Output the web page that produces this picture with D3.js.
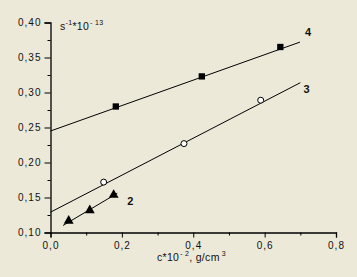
<!DOCTYPE html>
<html>
<head>
<meta charset="utf-8">
<script src="https://cdn.jsdelivr.net/npm/d3@7"></script>
<style>
  body { margin: 0; background: #ECE9D8; }
  svg text { font-family: Arial, "Liberation Sans", sans-serif; fill: #111; }
</style>
</head>
<body>
<div id="chart"></div>
<script>
const s4x = [0.183, 0.424, 0.644];
const s4y = [0.280, 0.323, 0.365];
const s3x = [0.149, 0.374, 0.589];
const s3y = [0.172, 0.227, 0.289];
const s2x = [0.051, 0.110, 0.177];
const s2y = [0.116, 0.131, 0.153];

// fitted lines: [x0, y0, x1, y1]
const fit4 = [0.0, 0.245, 0.699, 0.372];
const fit3 = [0.0, 0.129, 0.700, 0.314];
const fit2 = [0.035, 0.110, 0.187, 0.156];

const xTicks = [0.0, 0.2, 0.4, 0.6, 0.8];
const yTicks = [0.10, 0.15, 0.20, 0.25, 0.30, 0.35, 0.40];
const xMinor = [0.1, 0.3, 0.5, 0.7];
const yMinor = [0.125, 0.175, 0.225, 0.275, 0.325, 0.375];

const width = 357, height = 277;

const svg = d3.select("#chart").append("svg")
    .attr("width", width)
    .attr("height", height);

const x = d3.scaleLinear().domain([0, 0.8]).range([50.5, 336]);
const y = d3.scaleLinear().domain([0.1, 0.4]).range([232.5, 22.5]);

const fmt = d => d3.format(".1f")(d).replace(".", ",");
const fmtY = d => d3.format(".2f")(d).replace(".", ",");

// x axis
const gx = svg.append("g").attr("transform", `translate(0,${y(0.1)})`);
gx.call(d3.axisBottom(x).tickValues(xTicks).tickFormat(fmt).tickSize(5).tickPadding(4));
gx.append("g").call(d3.axisBottom(x).tickValues(xMinor).tickFormat("").tickSize(3))
    .select(".domain").remove();

// y axis
const gy = svg.append("g").attr("transform", `translate(${x(0)},0)`);
gy.call(d3.axisLeft(y).tickValues(yTicks).tickFormat(fmtY).tickSize(6).tickPadding(3));
gy.append("g").call(d3.axisLeft(y).tickValues(yMinor).tickFormat("").tickSize(3))
    .select(".domain").remove();

svg.selectAll(".domain").attr("stroke", "#000").attr("stroke-width", 1.3);
svg.selectAll(".tick line").attr("stroke", "#000");
svg.selectAll(".tick text")
    .attr("font-size", 10)
    .attr("letter-spacing", 1)
    .attr("fill", "#111");

// fitted lines
const fits = [fit4, fit3, fit2];
svg.selectAll(".fit").data(fits).enter().append("line")
    .attr("class", "fit")
    .attr("x1", d => x(d[0])).attr("y1", d => y(d[1]))
    .attr("x2", d => x(d[2])).attr("y2", d => y(d[3]))
    .attr("stroke", "#000").attr("stroke-width", 1);

// markers
const pts = (xs, ys) => xs.map((v, i) => ({ x: v, y: ys[i] }));

svg.selectAll(".sq").data(pts(s4x, s4y)).enter().append("path")
    .attr("class", "sq")
    .attr("d", d3.symbol(d3.symbolSquare, 40))
    .attr("transform", d => `translate(${x(d.x)},${y(d.y)})`)
    .attr("fill", "#000");

svg.selectAll(".ci").data(pts(s3x, s3y)).enter().append("circle")
    .attr("class", "ci")
    .attr("cx", d => x(d.x)).attr("cy", d => y(d.y))
    .attr("r", 3)
    .attr("fill", "#fff").attr("stroke", "#000");

svg.selectAll(".tr").data(pts(s2x, s2y)).enter().append("path")
    .attr("class", "tr")
    .attr("d", d3.symbol(d3.symbolTriangle, 42))
    .attr("transform", d => `translate(${x(d.x)},${y(d.y) - 0.5})`)
    .attr("fill", "#000");

// series labels
const seriesLabels = [
  { t: "4", x: 0.713, y: 0.381 },
  { t: "3", x: 0.709, y: 0.300 },
  { t: "2", x: 0.215, y: 0.140 }
];
svg.selectAll(".lbl").data(seriesLabels).enter().append("text")
    .attr("class", "lbl")
    .attr("x", d => x(d.x)).attr("y", d => y(d.y))
    .attr("font-size", 11).attr("font-weight", "bold")
    .text(d => d.t);

// y unit label
const yu = svg.append("text").attr("x", 60).attr("y", 30).attr("font-size", 10.5).attr("letter-spacing", 0.3);
yu.append("tspan").text("s");
yu.append("tspan").attr("dy", -5).attr("font-size", 7).text("-1");
yu.append("tspan").attr("dy", 5).text("*10");
yu.append("tspan").attr("dy", -5).attr("font-size", 7).attr("dx", 1).text("- 13");

// x axis title
const xt = svg.append("text").attr("x", 157).attr("y", 261).attr("font-size", 10.5).attr("letter-spacing", 0.3);
xt.append("tspan").text("c*10");
xt.append("tspan").attr("dy", -5).attr("font-size", 7).attr("dx", 1).text("- 2");
xt.append("tspan").attr("dy", 5).text(", g/cm");
xt.append("tspan").attr("dy", -5).attr("font-size", 7).attr("dx", 2).text("3");
</script>
</body>
</html>
